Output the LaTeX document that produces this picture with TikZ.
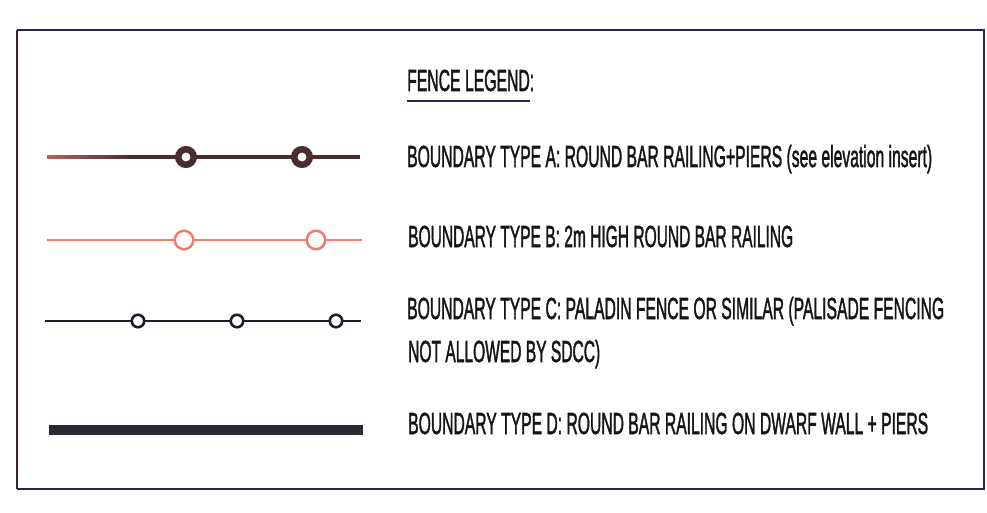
\documentclass[tikz,border=0pt]{standalone}
\usepackage{fontspec}
\usepackage{graphicx}
\newfontfamily\legfont[FakeBold=2]{Liberation Sans}
\newcommand\fitw[2]{\resizebox{#1}{\height}{#2}}
\definecolor{framecol}{HTML}{2B2450}
\definecolor{frameleft}{HTML}{3A2435}
\definecolor{acol}{HTML}{4A2E2E}
\definecolor{aleft}{HTML}{B86060}
\definecolor{bcol}{HTML}{EE7D6E}
\definecolor{ccol}{HTML}{1C1C2A}
\definecolor{dcol}{HTML}{2A2830}
\definecolor{txt}{HTML}{151515}
\tikzset{
  legtext/.style={anchor=base west, inner sep=0pt, text=txt,
    font=\legfont\fontsize{30.5}{32}\selectfont},
  ringA/.style={circle, draw=acol, line width=6.5pt, fill=white, minimum size=15.5pt, inner sep=0pt},
  ringB/.style={circle, draw=bcol, line width=2.5pt, fill=white, minimum size=18.5pt, inner sep=0pt},
  ringC/.style={circle, draw=ccol, line width=2.6pt, fill=white, minimum size=12.5pt, inner sep=0pt},
}
\begin{document}
\begin{tikzpicture}[x=1pt,y=-1pt]
\useasboundingbox (0,0) rectangle (987,513);
\fill[white] (0,0) rectangle (987,513);
% frame
\coordinate (f1) at (17,30);
\coordinate (f2) at (984,30);
\coordinate (f3) at (984,489);
\coordinate (f4) at (17,489);
\draw[framecol, line width=1.8pt] (f1) -- (f2) -- (f3) -- (f4);
\draw[frameleft, line width=1.8pt] (f4) -- (f1);
% title
\node[legtext] (title) at (407,91) {\fitw{127pt}{FENCE LEGEND:}};
\draw[framecol, line width=1.6pt] (title.base west) ++(0,10) coordinate (ul1) -- ++(123,0) coordinate (ul2);
% type A
\coordinate (a0) at (47,157);
\coordinate (a1) at (130,157);
\coordinate (a4) at (360,157);
\shade[left color=aleft, right color=acol] (47,155.3) rectangle (130,158.7);
\draw[acol, line width=3.4pt] (a1) -- (a4);
\node[ringA] (ra1) at (186,157) {};
\node[ringA] (ra2) at (302,157) {};
\node[legtext] (ta) at (407,167) {\fitw{525pt}{BOUNDARY TYPE A: ROUND BAR RAILING+PIERS (see elevation insert)}};
% type B
\coordinate (b0) at (47,240);
\coordinate (b3) at (362,240);
\draw[bcol, line width=2.2pt] (b0) -- (b3);
\node[ringB] (rb1) at (184,240) {};
\node[ringB] (rb2) at (316,240) {};
\node[legtext] (tb) at (408,247) {\fitw{385pt}{BOUNDARY TYPE B: 2m HIGH ROUND BAR RAILING}};
% type C
\coordinate (c0) at (45,321);
\coordinate (c4) at (361,321);
\draw[ccol, line width=2pt] (c0) -- (c4);
\node[ringC] (rc1) at (138,321) {};
\node[ringC] (rc2) at (237,321) {};
\node[ringC] (rc3) at (336,321) {};
\node[legtext] (tc1) at (407,319) {\fitw{537pt}{BOUNDARY TYPE C: PALADIN FENCE OR SIMILAR (PALISADE FENCING}};
\node[legtext] (tc2) at (408,362) {\fitw{192pt}{NOT ALLOWED BY SDCC)}};
% type D
\coordinate (d0) at (49,430);
\coordinate (d1) at (363,430);
\draw[dcol, line width=10pt] (d0) -- (d1);
\node[legtext] (td) at (408,434) {\fitw{520pt}{BOUNDARY TYPE D: ROUND BAR RAILING ON DWARF WALL + PIERS}};
\end{tikzpicture}
\end{document}
